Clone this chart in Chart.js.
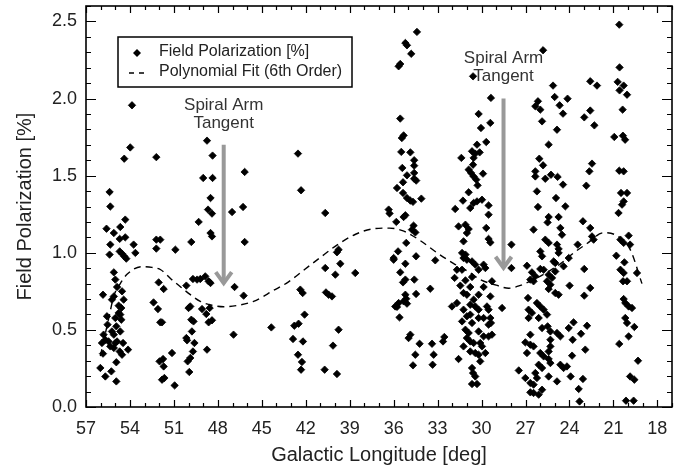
<!DOCTYPE html>
<html>
<head>
<meta charset="utf-8">
<script src="https://cdn.jsdelivr.net/npm/chart.js@4.4.1/dist/chart.umd.min.js"></script>
<style>
html,body{margin:0;padding:0;background:#fff;}
#wrap{width:694px;height:471px;}
</style>
</head>
<body>
<div id="wrap"><canvas id="c" width="694" height="471"></canvas></div>
<script>
// ---------------- DATA ----------------
const xTicks = [57, 54, 51, 48, 45, 42, 39, 36, 33, 30, 27, 24, 21, 18];
const yTicks = [0.0, 0.5, 1.0, 1.5, 2.0, 2.5];

// Field polarization measurements [longitude (deg), polarization (%)]
const fieldPoints = [
[53.86,1.956],[53.98,1.683],[54.39,1.61],[52.2,1.62],[48.74,1.727],[48.36,1.63],[49.0,1.485],[48.36,1.485],
[46.17,1.524],[55.39,1.394],[55.34,1.30],[48.5,1.355],[48.67,1.28],[46.28,1.297],
[48.4,1.254],[47.03,1.264],[49.31,1.20],[54.32,1.215],[55.6,1.156],[55.1,1.128],[54.66,1.167],[54.7,1.09],
[54.32,1.10],[55.34,1.053],[53.75,1.053],[54.7,1.009],[54.54,0.994],[54.39,0.977],[54.25,0.962],[55.39,0.988],
[53.63,0.999],[52.2,1.085],[51.93,1.085],[52.2,1.027],[50.9,1.02],[49.81,1.07],[48.5,1.128],[48.4,1.106],
[46.17,1.07],[55.1,0.873],[55.0,0.826],[54.88,0.778],[54.54,0.75],[55.84,0.728],[55.1,0.717],[55.23,0.696],
[54.43,0.696],[54.77,0.657],[54.59,0.642],[54.77,0.61],[54.66,0.599],[55.57,0.588],[55.0,0.577],[55.53,0.534],
[54.93,0.523],[54.59,0.566],[55.8,0.469],[55.23,0.49],[55.1,0.469],[54.66,0.49],[55.91,0.415],[55.68,0.436],
[55.46,0.425],[55.34,0.393],[55.0,0.415],[54.88,0.425],[54.47,0.415],[55.1,0.383],[54.7,0.36],[54.13,0.372],
[55.84,0.346],[54.54,0.339],[54.93,0.29],[56.02,0.253],[55.27,0.231],[55.68,0.198],[54.93,0.166],
[52.04,0.808],[51.7,0.765],[52.39,0.678],[52.09,0.635],[51.93,0.549],[51.81,0.549],[51.98,0.296],[51.74,0.311],
[51.7,0.263],[51.81,0.177],[51.65,0.188],[50.95,0.14],[51.13,0.35],
[50.15,0.787],[49.7,0.83],[49.42,0.826],[49.2,0.83],[48.86,0.847],[48.63,0.815],[48.5,0.804],[50.0,0.642],
[49.88,0.652],[49.08,0.635],[48.56,0.642],[48.79,0.603],[48.63,0.549],[48.4,0.562],[49.81,0.566],[49.66,0.555],
[49.77,0.49],[50.15,0.447],[50.1,0.432],[49.6,0.415],[49.7,0.36],[49.88,0.318],[50.06,0.296],[48.74,0.372],
[49.95,0.227],[46.86,0.778],[46.24,0.722],[46.93,0.469],[44.35,0.516],
[34.41,2.432],[35.2,2.36],[35.09,2.345],[34.8,2.29],[35.55,2.224],[35.66,2.209],[35.55,1.87],[35.32,1.761],
[35.44,1.744],[42.53,1.643],[35.48,1.654],[34.86,1.651],[34.6,1.6],[34.6,1.565],[35.41,1.55],[34.6,1.518],
[35.09,1.502],[34.6,1.48],[34.46,1.468],[35.36,1.457],[35.77,1.42],[35.36,1.388],[35.09,1.355],[34.86,1.338],
[34.68,1.33],[34.11,1.351],[42.32,1.405],[31.38,1.615],[31.27,1.338],[36.34,1.28],[36.28,1.255],
[40.67,1.258],[35.2,1.243],[35.32,1.232],[35.82,1.2],[34.64,1.176],[34.75,1.15],[34.52,1.132],[35.14,1.064],
[35.7,1.009],[36.0,0.966],[36.0,0.955],[34.47,0.977],[35.2,0.929],[33.16,0.951],[35.55,0.873],[35.2,0.826],
[35.36,0.808],[34.59,0.826],[33.5,0.767],[35.2,0.728],[35.14,0.702],[35.32,0.685],[34.47,0.733],[35.66,0.674],
[35.89,0.652],[35.77,0.649],[35.09,0.67],[35.6,0.581],[34.98,0.447],[34.86,0.469],[34.23,0.41],[33.38,0.41],
[32.54,0.454],[32.63,0.425],[34.52,0.339],[33.27,0.339],[34.68,0.27],[33.34,0.274],
[31.8,1.284],[31.57,1.171],[31.68,0.89],[31.84,0.837],[31.45,0.787],[32.02,0.652],[31.68,0.674],[31.57,0.311],
[42.37,0.761],[42.21,0.739],[42.08,0.599],[42.78,0.527],[42.49,0.54],[42.87,0.441],[42.19,0.425],[42.53,0.339],
[42.26,0.292],[42.32,0.242],[40.67,0.901],[39.98,0.858],[39.76,1.02],[39.87,1.003],[39.64,0.929],[38.62,0.869],
[40.62,0.743],[40.44,0.728],[40.21,0.717],[39.76,0.501],[40.14,0.398],[40.71,0.242],[39.87,0.214],
[20.6,2.479],[25.8,2.313],[20.58,2.202],[30.58,2.144],[25.12,2.084],[22.58,2.112],[22.12,2.084],[20.71,2.108],
[20.3,2.084],[20.58,2.053],[20.07,2.025],[25.01,2.01],[24.13,1.999],[29.36,2.004],[26.15,1.982],[26.33,1.95],
[25.99,1.928],[24.67,1.956],[24.44,1.902],[22.58,1.922],[22.99,1.878],[22.3,1.826],[20.37,1.928],[30.2,1.9],
[29.4,1.842],[30.04,1.809],[25.87,1.852],[24.85,1.798],[20.94,1.751],[20.35,1.759],[20.2,1.733],[29.68,1.718],
[30.31,1.701],[25.42,1.701],[30.65,1.658],[30.43,1.643],[30.13,1.651],[30.54,1.615],[30.58,1.571],[26.06,1.61],
[25.8,1.567],[22.46,1.578],[22.64,1.528],[30.88,1.539],[30.72,1.518],[30.54,1.495],[30.36,1.474],[29.9,1.513],
[26.33,1.528],[26.33,1.495],[25.65,1.48],[25.26,1.506],[24.81,1.492],[24.44,1.442],[22.85,1.435],[20.6,1.532],
[20.3,1.528],[30.27,1.437],[30.88,1.392],[26.22,1.398],[24.92,1.355],[20.48,1.388],[20.07,1.388],[20.3,1.333],
[20.41,1.312],[30.54,1.323],[30.31,1.333],[29.97,1.344],[29.52,1.307],[26.15,1.297],[24.28,1.301],
[30.77,1.29],[29.52,1.247],[31.1,1.182],[30.88,1.154],[31.0,1.128],[29.68,1.161],[29.52,1.09],[29.4,1.067],
[31.23,1.074],[31.33,0.999],[31.1,0.988],[31.23,0.966],[31.0,0.955],[30.65,0.944],[30.43,0.923],[30.2,0.89],
[29.86,0.923],[29.74,0.901],[31.33,0.89],[30.65,0.843],[31.1,0.821],[29.29,0.815],[30.77,0.778],[29.86,0.778],
[31.23,0.739],[31.0,0.728],[30.2,0.728],[29.4,0.717],[30.54,0.696],[30.77,0.663],[30.43,0.652],[30.2,0.631],
[29.63,0.652],[29.52,0.631],[31.23,0.631],[28.6,0.642],[31.0,0.588],[30.77,0.599],[30.2,0.577],[29.86,0.577],
[29.4,0.577],[31.33,0.555],[30.65,0.545],[29.52,0.534],[29.36,0.545],[31.1,0.501],[30.88,0.48],[30.2,0.49],
[29.86,0.458],[29.52,0.458],[29.29,0.469],[31.0,0.447],[30.77,0.425],[30.54,0.415],[31.23,0.393],[30.09,0.415],
[29.97,0.393],[30.77,0.36],[30.43,0.35],[30.2,0.339],[29.74,0.35],[30.09,0.296],[30.65,0.253],[30.58,0.22],
[30.43,0.198],[30.65,0.149],[30.31,0.149],[27.96,1.053],[27.96,0.901],
[25.42,1.232],[25.49,1.197],[24.74,1.232],[26.45,1.15],[24.62,1.161],[24.51,1.117],[23.08,1.204],[22.58,1.161],
[22.46,1.106],[22.35,1.085],[25.65,1.085],[25.42,1.064],[24.85,1.053],[24.74,1.025],[23.44,1.053],[25.99,1.009],
[24.74,0.999],[25.87,0.977],[24.05,0.966],[25.08,0.944],[24.97,0.934],[26.9,0.916],[25.99,0.895],[25.76,0.89],
[24.4,0.912],[22.99,0.895],[26.56,0.873],[26.33,0.847],[26.67,0.826],[26.45,0.815],[25.42,0.858],[25.19,0.837],
[24.97,0.879],[25.53,0.815],[25.3,0.793],[25.42,0.765],[24.97,0.739],[24.74,0.728],[23.99,0.787],[22.58,0.772],
[22.99,0.722],[26.83,0.707],[26.22,0.674],[25.99,0.652],[25.76,0.631],[25.53,0.599],[26.79,0.631],[26.56,0.61],
[26.79,0.577],[26.1,0.577],[25.87,0.512],[25.49,0.523],[25.3,0.49],[24.85,0.48],[24.62,0.458],[26.67,0.469],
[24.05,0.512],[23.72,0.549],[22.8,0.527],[23.21,0.475],[25.3,0.436],[27.01,0.419],[26.67,0.404],[26.45,0.393],
[26.9,0.35],[25.3,0.393],[25.42,0.36],[23.78,0.436],[22.92,0.372],[25.99,0.35],[25.76,0.328],[25.42,0.311],
[25.3,0.285],[23.82,0.333],[24.62,0.274],[24.4,0.253],[26.1,0.274],[25.87,0.253],[24.17,0.263],[23.92,0.198],
[25.42,0.198],[26.33,0.22],[26.22,0.188],[27.46,0.237],[27.01,0.188],[26.67,0.156],[26.45,0.145],[24.85,0.166],
[26.67,0.095],[26.45,0.091],[26.1,0.08],[25.87,0.112],[23.37,0.117],[23.08,0.182],[23.31,0.036],
[20.65,1.258],[19.96,1.111],[20.52,1.085],[20.3,1.064],[19.86,1.053],[20.8,0.981],[20.25,0.938],[20.52,0.89],
[20.3,0.869],[20.07,0.815],[20.34,0.815],[19.39,0.869],[20.3,0.7],[20.19,0.674],[19.96,0.652],[19.73,0.642],
[20.19,0.577],[20.07,0.545],[19.57,0.519],[19.96,0.458],[20.6,0.409],[19.32,0.3],[19.86,0.198],[19.57,0.177],
[20.14,0.041],[19.62,0.041]
];

// 6th-order polynomial fit [longitude, polarization]
const fitPoints = [
[56.02,0.33],[55.46,0.57],[55.1,0.72],[54.66,0.80],[54.2,0.86],[53.2,0.91],[52.5,0.905],[51.9,0.89],
[51.2,0.83],[50.56,0.78],[49.9,0.73],[49.2,0.685],[48.4,0.66],[47.6,0.65],[46.6,0.66],[45.56,0.685],
[44.2,0.756],[43.2,0.81],[42.1,0.89],[41.0,0.97],[39.87,1.05],[38.6,1.12],[37.37,1.156],[36.3,1.16],
[35.3,1.14],[34.2,1.08],[33.04,1.0],[31.9,0.93],[30.77,0.87],[30.09,0.826],[29.0,0.79],[28.15,0.77],
[27.3,0.79],[26.45,0.826],[25.5,0.875],[24.6,0.93],[23.7,1.0],[22.8,1.06],[21.67,1.13],[20.75,1.11],
[19.85,1.02],[19.05,0.80]
];

// Spiral arm tangent longitudes
const tangentLon = [47.6, 28.5];

// ---------------- PLUGINS ----------------
const FONT = '"Liberation Sans", Arial, Helvetica, sans-serif';
const TXT = '#222';

const framePlugin = {
  id: 'frameTicks',
  afterDatasetsDraw(chart) {
    const {ctx, chartArea: a, scales: {x, y}} = chart;
    ctx.save();
    ctx.strokeStyle = '#000';
    ctx.lineWidth = 1.2;
    ctx.beginPath();
    for (let v = 17; v <= 57; v++) {
      const px = Math.round(x.getPixelForValue(v)) + 0.5;
      const len = (v % 3 === 0) ? 7 : 4;
      ctx.moveTo(px, a.bottom); ctx.lineTo(px, a.bottom - len);
      ctx.moveTo(px, a.top); ctx.lineTo(px, a.top + len);
    }
    for (let i = 0; i <= 26; i++) {
      const py = Math.round(y.getPixelForValue(i / 10)) + 0.5;
      const len = (i % 5 === 0) ? 10 : 5;
      ctx.moveTo(a.left, py); ctx.lineTo(a.left + len, py);
      ctx.moveTo(a.right, py); ctx.lineTo(a.right - len, py);
    }
    ctx.stroke();
    ctx.lineWidth = 1.6;
    ctx.strokeRect(a.left, a.top, a.right - a.left, a.bottom - a.top);
    ctx.restore();
  }
};

const annotPlugin = {
  id: 'annot',
  afterDatasetsDraw(chart) {
    const {ctx, scales: {x, y}} = chart;
    const specs = [
      {lon: tangentLon[0], top: 1.70, tip: 0.79, t1: 1.955, t2: 1.84},
      {lon: tangentLon[1], top: 2.00, tip: 0.89, t1: 2.26, t2: 2.145}
    ];
    ctx.save();
    specs.forEach(s => {
      const px = x.getPixelForValue(s.lon);
      const yTop = y.getPixelForValue(s.top);
      const yTip = y.getPixelForValue(s.tip);
      ctx.strokeStyle = '#999';
      ctx.lineWidth = 4;
      ctx.lineCap = 'butt';
      ctx.lineJoin = 'miter';
      ctx.beginPath();
      ctx.moveTo(px, yTop); ctx.lineTo(px, yTip - 2);
      ctx.stroke();
      ctx.beginPath();
      ctx.moveTo(px - 8, yTip - 13); ctx.lineTo(px, yTip - 2); ctx.lineTo(px + 8, yTip - 13);
      ctx.stroke();
      ctx.fillStyle = '#333';
      ctx.font = '17px ' + FONT;
      ctx.textAlign = 'center';
      ctx.textBaseline = 'middle';
      ctx.fillText('Spiral Arm', px, y.getPixelForValue(s.t1));
      ctx.fillText('Tangent', px, y.getPixelForValue(s.t2));
    });
    ctx.restore();
  }
};

const legendPlugin = {
  id: 'boxLegend',
  afterDraw(chart) {
    const ctx = chart.ctx;
    ctx.save();
    ctx.fillStyle = '#fff';
    ctx.fillRect(118, 37, 234, 50);
    ctx.strokeStyle = '#000';
    ctx.lineWidth = 1.5;
    ctx.strokeRect(118, 37, 234, 50);
    ctx.fillStyle = '#000';
    ctx.beginPath();
    ctx.moveTo(137, 49); ctx.lineTo(141, 53); ctx.lineTo(137, 57); ctx.lineTo(133, 53);
    ctx.closePath(); ctx.fill();
    ctx.lineWidth = 1.5;
    ctx.beginPath();
    ctx.moveTo(129, 73); ctx.lineTo(134, 73);
    ctx.moveTo(139, 73); ctx.lineTo(144, 73);
    ctx.stroke();
    ctx.fillStyle = TXT;
    ctx.font = '16px ' + FONT;
    ctx.textAlign = 'left';
    ctx.textBaseline = 'middle';
    ctx.fillText('Field Polarization [%]', 159, 51.5);
    ctx.fillText('Polynomial Fit (6th Order)', 159, 72);
    ctx.restore();
  }
};

// ---------------- CHART ----------------
const ctx = document.getElementById('c').getContext('2d');
new Chart(ctx, {
  type: 'scatter',
  data: {
    datasets: [
      {
        label: 'Polynomial Fit (6th Order)',
        type: 'line',
        data: fitPoints.map(p => ({x: p[0], y: p[1]})),
        borderColor: '#000',
        borderWidth: 1.4,
        borderDash: [7, 5],
        pointRadius: 0,
        fill: false,
        cubicInterpolationMode: 'monotone',
        order: 2
      },
      {
        label: 'Field Polarization [%]',
        data: fieldPoints.map(p => ({x: p[0], y: p[1]})),
        pointStyle: 'rectRot',
        pointRadius: 3.7,
        pointBorderWidth: 0.8,
        backgroundColor: '#000',
        borderColor: '#000',
        order: 1
      }
    ]
  },
  options: {
    responsive: false,
    animation: false,
    devicePixelRatio: 1,
    layout: {padding: {left: 0, top: 6, right: 22, bottom: 0}},
    plugins: {legend: {display: false}, tooltip: {enabled: false}},
    scales: {
      x: {
        type: 'linear',
        min: 17, max: 57, reverse: true,
        grid: {display: false, drawTicks: false},
        border: {display: false},
        afterBuildTicks: s => { s.ticks = xTicks.map(v => ({value: v})); },
        afterFit: s => { s.height = 64; s.paddingLeft = 0; s.paddingRight = 0; },
        ticks: {
          color: TXT, padding: 11, maxRotation: 0, autoSkip: false,
          font: {family: FONT, size: 18},
          callback: v => String(v)
        },
        title: {
          display: true, text: 'Galactic Longitude [deg]', color: TXT,
          font: {family: FONT, size: 20}, padding: {top: 0, bottom: 4}
        }
      },
      y: {
        type: 'linear',
        min: 0, max: 2.6,
        grid: {display: false, drawTicks: false},
        border: {display: false},
        afterBuildTicks: s => { s.ticks = yTicks.map(v => ({value: v})); },
        afterFit: s => { s.width = 86; s.paddingTop = 0; s.paddingBottom = 0; },
        ticks: {
          color: TXT, padding: 9, autoSkip: false,
          font: {family: FONT, size: 18},
          callback: v => Number(v).toFixed(1)
        },
        title: {
          display: true, text: 'Field Polarization [%]', color: TXT,
          font: {family: FONT, size: 20}, padding: {top: 13, bottom: 0}
        }
      }
    }
  },
  plugins: [framePlugin, annotPlugin, legendPlugin]
});
</script>
</body>
</html>
